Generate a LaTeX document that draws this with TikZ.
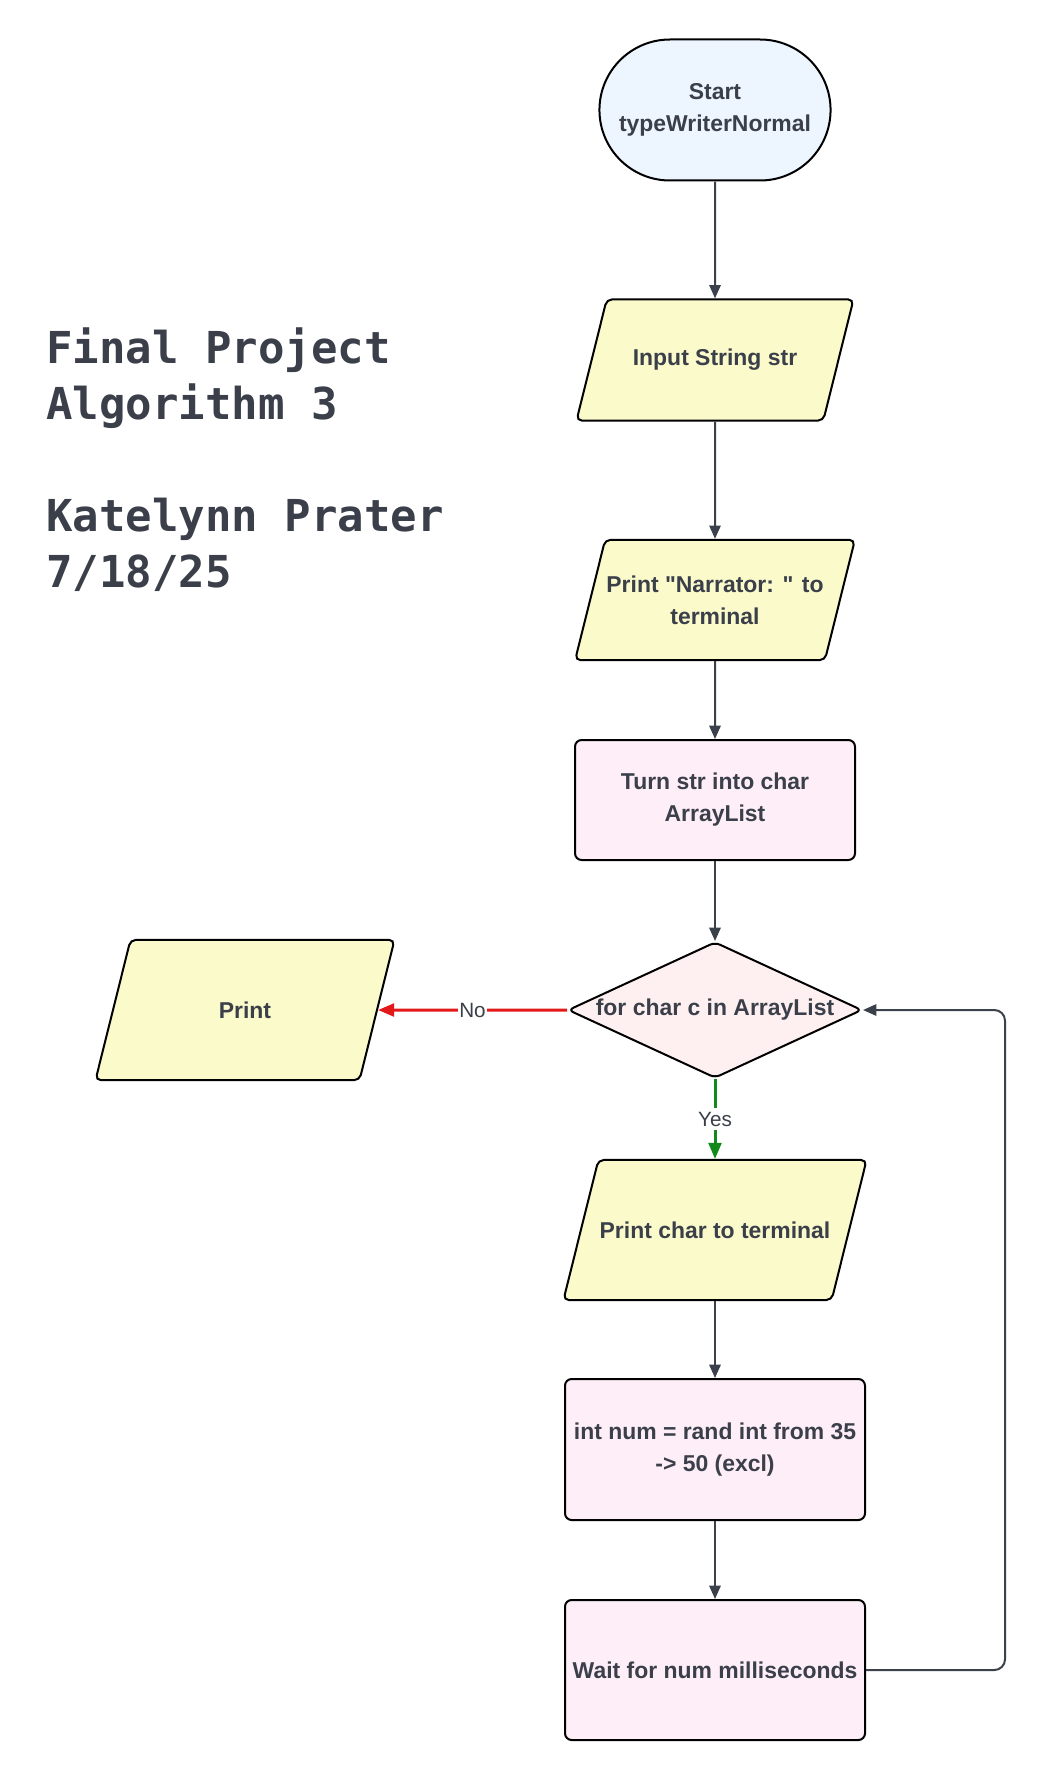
\documentclass[tikz,border=0pt]{standalone}
\usepackage{fontspec}
\setmainfont{Liberation Sans}
\newfontfamily\titlefont{DejaVu Sans Mono}
\usepackage{tikz}
\usetikzlibrary{shapes.geometric,shapes.misc,arrows.meta,positioning}
\usepackage{xcolor}
\definecolor{ink}{HTML}{3A3F4A}
\definecolor{edgegray}{HTML}{3B414B}
\definecolor{startblue}{HTML}{EDF5FF}
\definecolor{ioyellow}{HTML}{FBFACB}
\definecolor{procpink}{HTML}{FEEEF8}
\definecolor{decpink}{HTML}{FEF0F0}
\definecolor{noRed}{HTML}{E31919}
\definecolor{yesGreen}{HTML}{12891A}

\begin{document}
\begin{tikzpicture}[x=0.75pt, y=-0.75pt,
    box/.style={draw=black, line width=1.5pt, text=ink, font=\fontsize{17.2pt}{24pt}\selectfont\bfseries, align=center},
    term/.style={box, rounded rectangle, fill=startblue, minimum width=180pt, minimum height=105.75pt},
    io/.style={box, trapezium, trapezium left angle=76, trapezium right angle=104, trapezium stretches body, rounded corners=4pt, fill=ioyellow, inner xsep=1pt},
    proc/.style={box, rectangle, rounded corners=5pt, fill=procpink, minimum width=225pt, minimum height=105.75pt},
    dec/.style={box, diamond, aspect=2.16, rounded corners=4pt, fill=decpink, minimum width=220.5pt, minimum height=102pt, inner sep=0pt},
    arrow/.style={-{Triangle[length=10pt,width=8.5pt]}, line width=1.5pt, draw=edgegray},
    branch/.style={-{Triangle[length=12pt,width=9.5pt]}, line width=2.25pt},
    lbl/.style={fill=white, text=ink, font=\fontsize{15.5pt}{18pt}\selectfont, inner xsep=1pt, inner ysep=3pt}
]
\useasboundingbox (0,0) rectangle (1045,1780);

\node[anchor=base west, inner sep=0pt, align=left, text=ink, font=\titlefont\bfseries\fontsize{33pt}{42pt}\selectfont] (title) at (46,587) {Final Project\\Algorithm 3\\[42pt]Katelynn Prater\\7/18/25};

\node[term] (start) at (715,110) {Start\\typeWriterNormal};
\node[io, minimum width=207.75pt, minimum height=90.75pt, inner ysep=37.4pt] (input) at (715,360) {Input String str};
\node[io, minimum width=207.75pt, minimum height=90pt, inner ysep=26.8pt] (narr) at (715,600) {Print \textquotedbl Narrator: \textquotedbl{} to\\terminal};
\node[proc, minimum width=210pt, minimum height=90pt] (turn) at (715,800) {Turn str into char\\ArrayList};
\node[dec] (loop) at (715,1010) {for char c in ArrayList};
\node[io, minimum width=224.25pt, minimum height=105pt, inner ysep=46.3pt] (print) at (245,1010) {Print};
\node[io, minimum width=222.75pt, minimum height=105pt, inner ysep=46.2pt] (pchar) at (715,1230) {Print char to terminal};
\node[proc] (rnd) at (715,1449.5) {int num = rand int from 35\\-> 50 (excl)};
\node[proc, minimum height=105pt] (wait) at (715,1670) {Wait for num milliseconds};
\coordinate (back) at (1005,1670);

\draw[arrow] (start) -- (input);
\draw[arrow] (input) -- (narr);
\draw[arrow] (narr) -- (turn);
\draw[arrow] (turn) -- (loop);
\draw[branch, draw=noRed] (loop) -- node[lbl] {No} (print);
\draw[branch, draw=yesGreen] (loop) -- node[lbl] {Yes} (pchar);
\draw[arrow] (pchar) -- (rnd);
\draw[arrow] (rnd) -- (wait);
\draw[arrow, rounded corners=8pt] (wait) -- (back) |- (loop);
\end{tikzpicture}
\end{document}
